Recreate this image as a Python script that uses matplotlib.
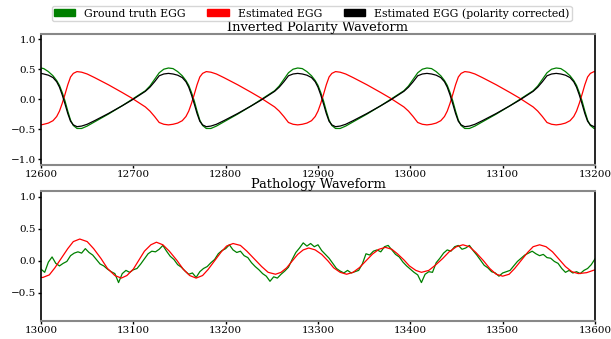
import numpy as np
import matplotlib.pyplot as plt
import matplotlib.patches as mpatches

plt.rcParams['font.family'] = ['DejaVu Serif']

# ---- top panel: inverted polarity (samples 12600-13200) ----
top_x = [12600, 12603, 12608, 12613, 12617, 12620, 12623, 12626, 12629, 12632, 12635, 12639,
         12644, 12650, 12658, 12673, 12688, 12698, 12706, 12713, 12718, 12723, 12728, 12733,
         12738, 12743, 12748, 12753, 12757, 12760, 12763, 12766, 12769, 12772, 12775, 12779,
         12784, 12790, 12798, 12813, 12828, 12838, 12846, 12853, 12858, 12863, 12868, 12873,
         12878, 12883, 12888, 12893, 12897, 12900, 12903, 12906, 12909, 12912, 12915, 12919,
         12924, 12930, 12938, 12953, 12968, 12978, 12986, 12993, 12998, 13003, 13008, 13013,
         13018, 13023, 13028, 13033, 13037, 13040, 13043, 13046, 13049, 13052, 13055, 13059,
         13064, 13070, 13078, 13093, 13108, 13118, 13126, 13133, 13138, 13143, 13148, 13153,
         13158, 13163, 13168, 13173, 13177, 13180, 13183, 13186, 13189, 13192, 13195, 13199,
         13200]
top_truth = [0.52, 0.51, 0.46, 0.39, 0.31, 0.23, 0.11, -0.03, -0.20, -0.35, -0.44, -0.49,
             -0.49, -0.45, -0.38, -0.25, -0.11, -0.01, 0.07, 0.14, 0.22, 0.33, 0.44, 0.50,
             0.52, 0.51, 0.46, 0.39, 0.31, 0.23, 0.11, -0.03, -0.20, -0.35, -0.44, -0.49,
             -0.49, -0.45, -0.38, -0.25, -0.11, -0.01, 0.07, 0.14, 0.22, 0.33, 0.44, 0.50,
             0.52, 0.51, 0.46, 0.39, 0.31, 0.23, 0.11, -0.03, -0.20, -0.35, -0.44, -0.49,
             -0.49, -0.45, -0.38, -0.25, -0.11, -0.01, 0.07, 0.14, 0.22, 0.33, 0.44, 0.50,
             0.52, 0.51, 0.46, 0.39, 0.31, 0.23, 0.11, -0.03, -0.20, -0.35, -0.44, -0.49,
             -0.49, -0.45, -0.38, -0.25, -0.11, -0.01, 0.07, 0.14, 0.22, 0.33, 0.44, 0.50,
             0.52, 0.51, 0.46, 0.39, 0.31, 0.23, 0.11, -0.03, -0.20, -0.35, -0.44, -0.49,
             -0.49]
top_estimated = [-0.43, -0.42, -0.40, -0.36, -0.29, -0.20, -0.07, 0.08, 0.24, 0.37, 0.43, 0.46,
                 0.45, 0.42, 0.36, 0.24, 0.11, 0.02, -0.06, -0.13, -0.20, -0.29, -0.39, -0.42,
                 -0.43, -0.42, -0.40, -0.36, -0.29, -0.20, -0.07, 0.08, 0.24, 0.37, 0.43, 0.46,
                 0.45, 0.42, 0.36, 0.24, 0.11, 0.02, -0.06, -0.13, -0.20, -0.29, -0.39, -0.42,
                 -0.43, -0.42, -0.40, -0.36, -0.29, -0.20, -0.07, 0.08, 0.24, 0.37, 0.43, 0.46,
                 0.45, 0.42, 0.36, 0.24, 0.11, 0.02, -0.06, -0.13, -0.20, -0.29, -0.39, -0.42,
                 -0.43, -0.42, -0.40, -0.36, -0.29, -0.20, -0.07, 0.08, 0.24, 0.37, 0.43, 0.46,
                 0.45, 0.42, 0.36, 0.24, 0.11, 0.02, -0.06, -0.13, -0.20, -0.29, -0.39, -0.42,
                 -0.43, -0.42, -0.40, -0.36, -0.29, -0.20, -0.07, 0.08, 0.24, 0.37, 0.43, 0.46,
                 0.46]
# polarity correction = flip the sign of the estimate
top_corrected = np.negative(top_estimated)

# ---- bottom panel: pathology (samples 13000-13600) ----
path_truth_x = np.arange(13000, 13601, 4)
path_truth = [-0.13, -0.18, -0.02, 0.06, -0.04, -0.08, -0.04, -0.01, 0.08, 0.12, 0.14, 0.12,
              0.19, 0.13, 0.09, 0.02, -0.05, -0.08, -0.13, -0.17, -0.20, -0.34, -0.20, -0.15,
              -0.18, -0.14, -0.12, -0.05, 0.03, 0.11, 0.15, 0.14, 0.18, 0.24, 0.15, 0.07,
              0.02, -0.06, -0.10, -0.16, -0.21, -0.19, -0.26, -0.17, -0.12, -0.09, -0.03, 0.02,
              0.11, 0.16, 0.19, 0.25, 0.17, 0.13, 0.15, 0.08, 0.05, -0.03, -0.09, -0.14,
              -0.20, -0.24, -0.32, -0.25, -0.27, -0.21, -0.16, -0.10, 0.02, 0.13, 0.20, 0.28,
              0.23, 0.27, 0.22, 0.25, 0.16, 0.10, 0.04, -0.04, -0.12, -0.16, -0.19, -0.15,
              -0.19, -0.17, -0.15, -0.05, 0.11, 0.09, 0.15, 0.17, 0.14, 0.22, 0.24, 0.17,
              0.10, 0.06, -0.02, -0.08, -0.13, -0.18, -0.22, -0.34, -0.21, -0.17, -0.18, -0.03,
              0.04, 0.12, 0.17, 0.15, 0.22, 0.24, 0.18, 0.20, 0.24, 0.16, 0.09, 0.01,
              -0.07, -0.11, -0.17, -0.19, -0.24, -0.19, -0.17, -0.15, -0.08, -0.01, 0.04, 0.09,
              0.12, 0.15, 0.11, 0.08, 0.10, 0.05, 0.04, -0.01, -0.04, -0.12, -0.18, -0.15,
              -0.19, -0.17, -0.20, -0.15, -0.12, -0.06, 0.03]

path_est_x = [13000, 13002, 13009, 13015, 13022, 13029, 13035, 13042,
              13050, 13057, 13065, 13072, 13080, 13087,
              13093, 13100, 13106, 13112, 13119, 13125,
              13132, 13139, 13147, 13154, 13161, 13168,
              13175, 13181, 13188, 13195, 13201, 13208,
              13216, 13223, 13231, 13239, 13246, 13254,
              13260, 13266, 13272, 13278, 13284, 13290,
              13297, 13304, 13311, 13317, 13324, 13331,
              13338, 13345, 13352, 13359, 13366, 13373,
              13380, 13386, 13393, 13399, 13406, 13412,
              13420, 13427, 13435, 13442, 13450, 13457,
              13464, 13471, 13479, 13486, 13493, 13500,
              13507, 13513, 13520, 13527, 13533, 13540,
              13547, 13554, 13561, 13568, 13575, 13582,
              13591, 13600]
path_est = [-0.26, -0.26, -0.22, -0.11, 0.04, 0.19, 0.30, 0.34,
            0.30, 0.19, 0.035, -0.12, -0.23, -0.27,
            -0.23, -0.13, 0.01, 0.15, 0.25, 0.29,
            0.25, 0.15, 0.01, -0.13, -0.23, -0.27,
            -0.23, -0.135, 0.0, 0.135, 0.23, 0.27,
            0.24, 0.15, 0.03, -0.09, -0.18, -0.21,
            -0.18, -0.11, -0.005, 0.10, 0.17, 0.20,
            0.17, 0.10, -0.005, -0.11, -0.18, -0.21,
            -0.18, -0.105, 0.0, 0.105, 0.18, 0.21,
            0.18, 0.11, 0.015, -0.08, -0.15, -0.18,
            -0.15, -0.07, 0.035, 0.14, 0.22, 0.25,
            0.22, 0.13, 0.005, -0.12, -0.21, -0.24,
            -0.21, -0.12, 0.005, 0.13, 0.22, 0.25,
            0.22, 0.14, 0.025, -0.09, -0.17, -0.20,
            -0.185, -0.14]

legend_labels = ['Ground truth EGG', 'Estimated EGG', 'Estimated EGG (polarity corrected)']
legend_colors = ['green', 'red', 'black']

fig = plt.figure(figsize=(6.11, 3.39), dpi=100)
ax1 = fig.add_axes([0.0671, 0.5133, 0.9067, 0.385])
ax2 = fig.add_axes([0.0671, 0.0531, 0.9067, 0.3835])

ax1.plot(top_x, top_truth, color='green', lw=0.9)
ax1.plot(top_x, top_estimated, color='red', lw=0.9)
ax1.plot(top_x, top_corrected, color='black', lw=0.9)
ax1.set_xlim(12600, 13200)
ax1.set_ylim(-1.1, 1.08)
ax1.set_yticks([-1.0, -0.5, 0.0, 0.5, 1.0])
ax1.set_title('Inverted Polarity Waveform', fontsize=9.4, pad=0.5)

ax2.plot(path_truth_x, path_truth, color='green', lw=0.9)
ax2.plot(path_est_x, path_est, color='red', lw=0.9)
ax2.set_xlim(13000, 13600)
ax2.set_ylim(-0.94, 1.09)
ax2.set_yticks([-0.5, 0.0, 0.5, 1.0])
ax2.set_title('Pathology Waveform', fontsize=9.4, pad=0.5)

for ax in (ax1, ax2):
    ax.tick_params(labelsize=7.5, length=2, width=1, pad=1.5)
    ax.spines['top'].set_color('#888888')
    ax.spines['bottom'].set_color('#888888')
    ax.spines['top'].set_linewidth(1.5)
    ax.spines['bottom'].set_linewidth(1.5)
    ax.spines['left'].set_linewidth(1.2)
    ax.spines['right'].set_linewidth(1.2)

handles = [mpatches.Patch(color=c) for c in legend_colors]
fig.legend(handles, legend_labels, loc='center', bbox_to_anchor=(0.51, 0.961),
           ncol=3, fontsize=7.8, frameon=True, borderpad=0.2, handleheight=0.6,
           columnspacing=2.0)

fig.savefig('out.png', dpi=100)
